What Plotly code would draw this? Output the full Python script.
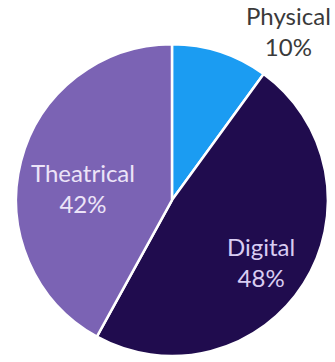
import plotly.graph_objects as go

# Revenue share by distribution channel
channels = ["Physical", "Digital", "Theatrical"]
shares = [10, 48, 42]
colors = ["#1b9cf2", "#200c4e", "#7b63b4"]
label_colors = ["#3a3a3a", "#d9cdf2", "#ece4f8"]
# label anchor points in pixels from the top-left corner
label_x = [288, 261, 83]
label_y = [0, 262, 188]
label_anchor = ["top", "middle", "middle"]

W, H = 335, 362

fig = go.Figure(
    go.Pie(
        labels=channels,
        values=shares,
        sort=False,
        direction="clockwise",
        rotation=0,
        marker=dict(colors=colors, line=dict(color="white", width=2.5)),
        textinfo="none",
        hoverinfo="label+percent",
        domain=dict(x=[0.0478, 0.979], y=[0.0166, 0.878]),
        showlegend=False,
    )
)

total = sum(shares)
for name, val, c, x, y, ya in zip(channels, shares, label_colors, label_x, label_y, label_anchor):
    fig.add_annotation(
        x=x / W, y=1 - y / H, xref="paper", yref="paper",
        xanchor="center", yanchor=ya,
        text=f"{name}<br>{round(100 * val / total)}%",
        align="center",
        showarrow=False,
        borderpad=0,
        font=dict(family="Lato", size=24, color=c),
    )

fig.update_layout(
    width=W,
    height=H,
    margin=dict(l=0, r=0, t=0, b=0),
    paper_bgcolor="white",
    plot_bgcolor="white",
)

fig.write_html("out.html")
